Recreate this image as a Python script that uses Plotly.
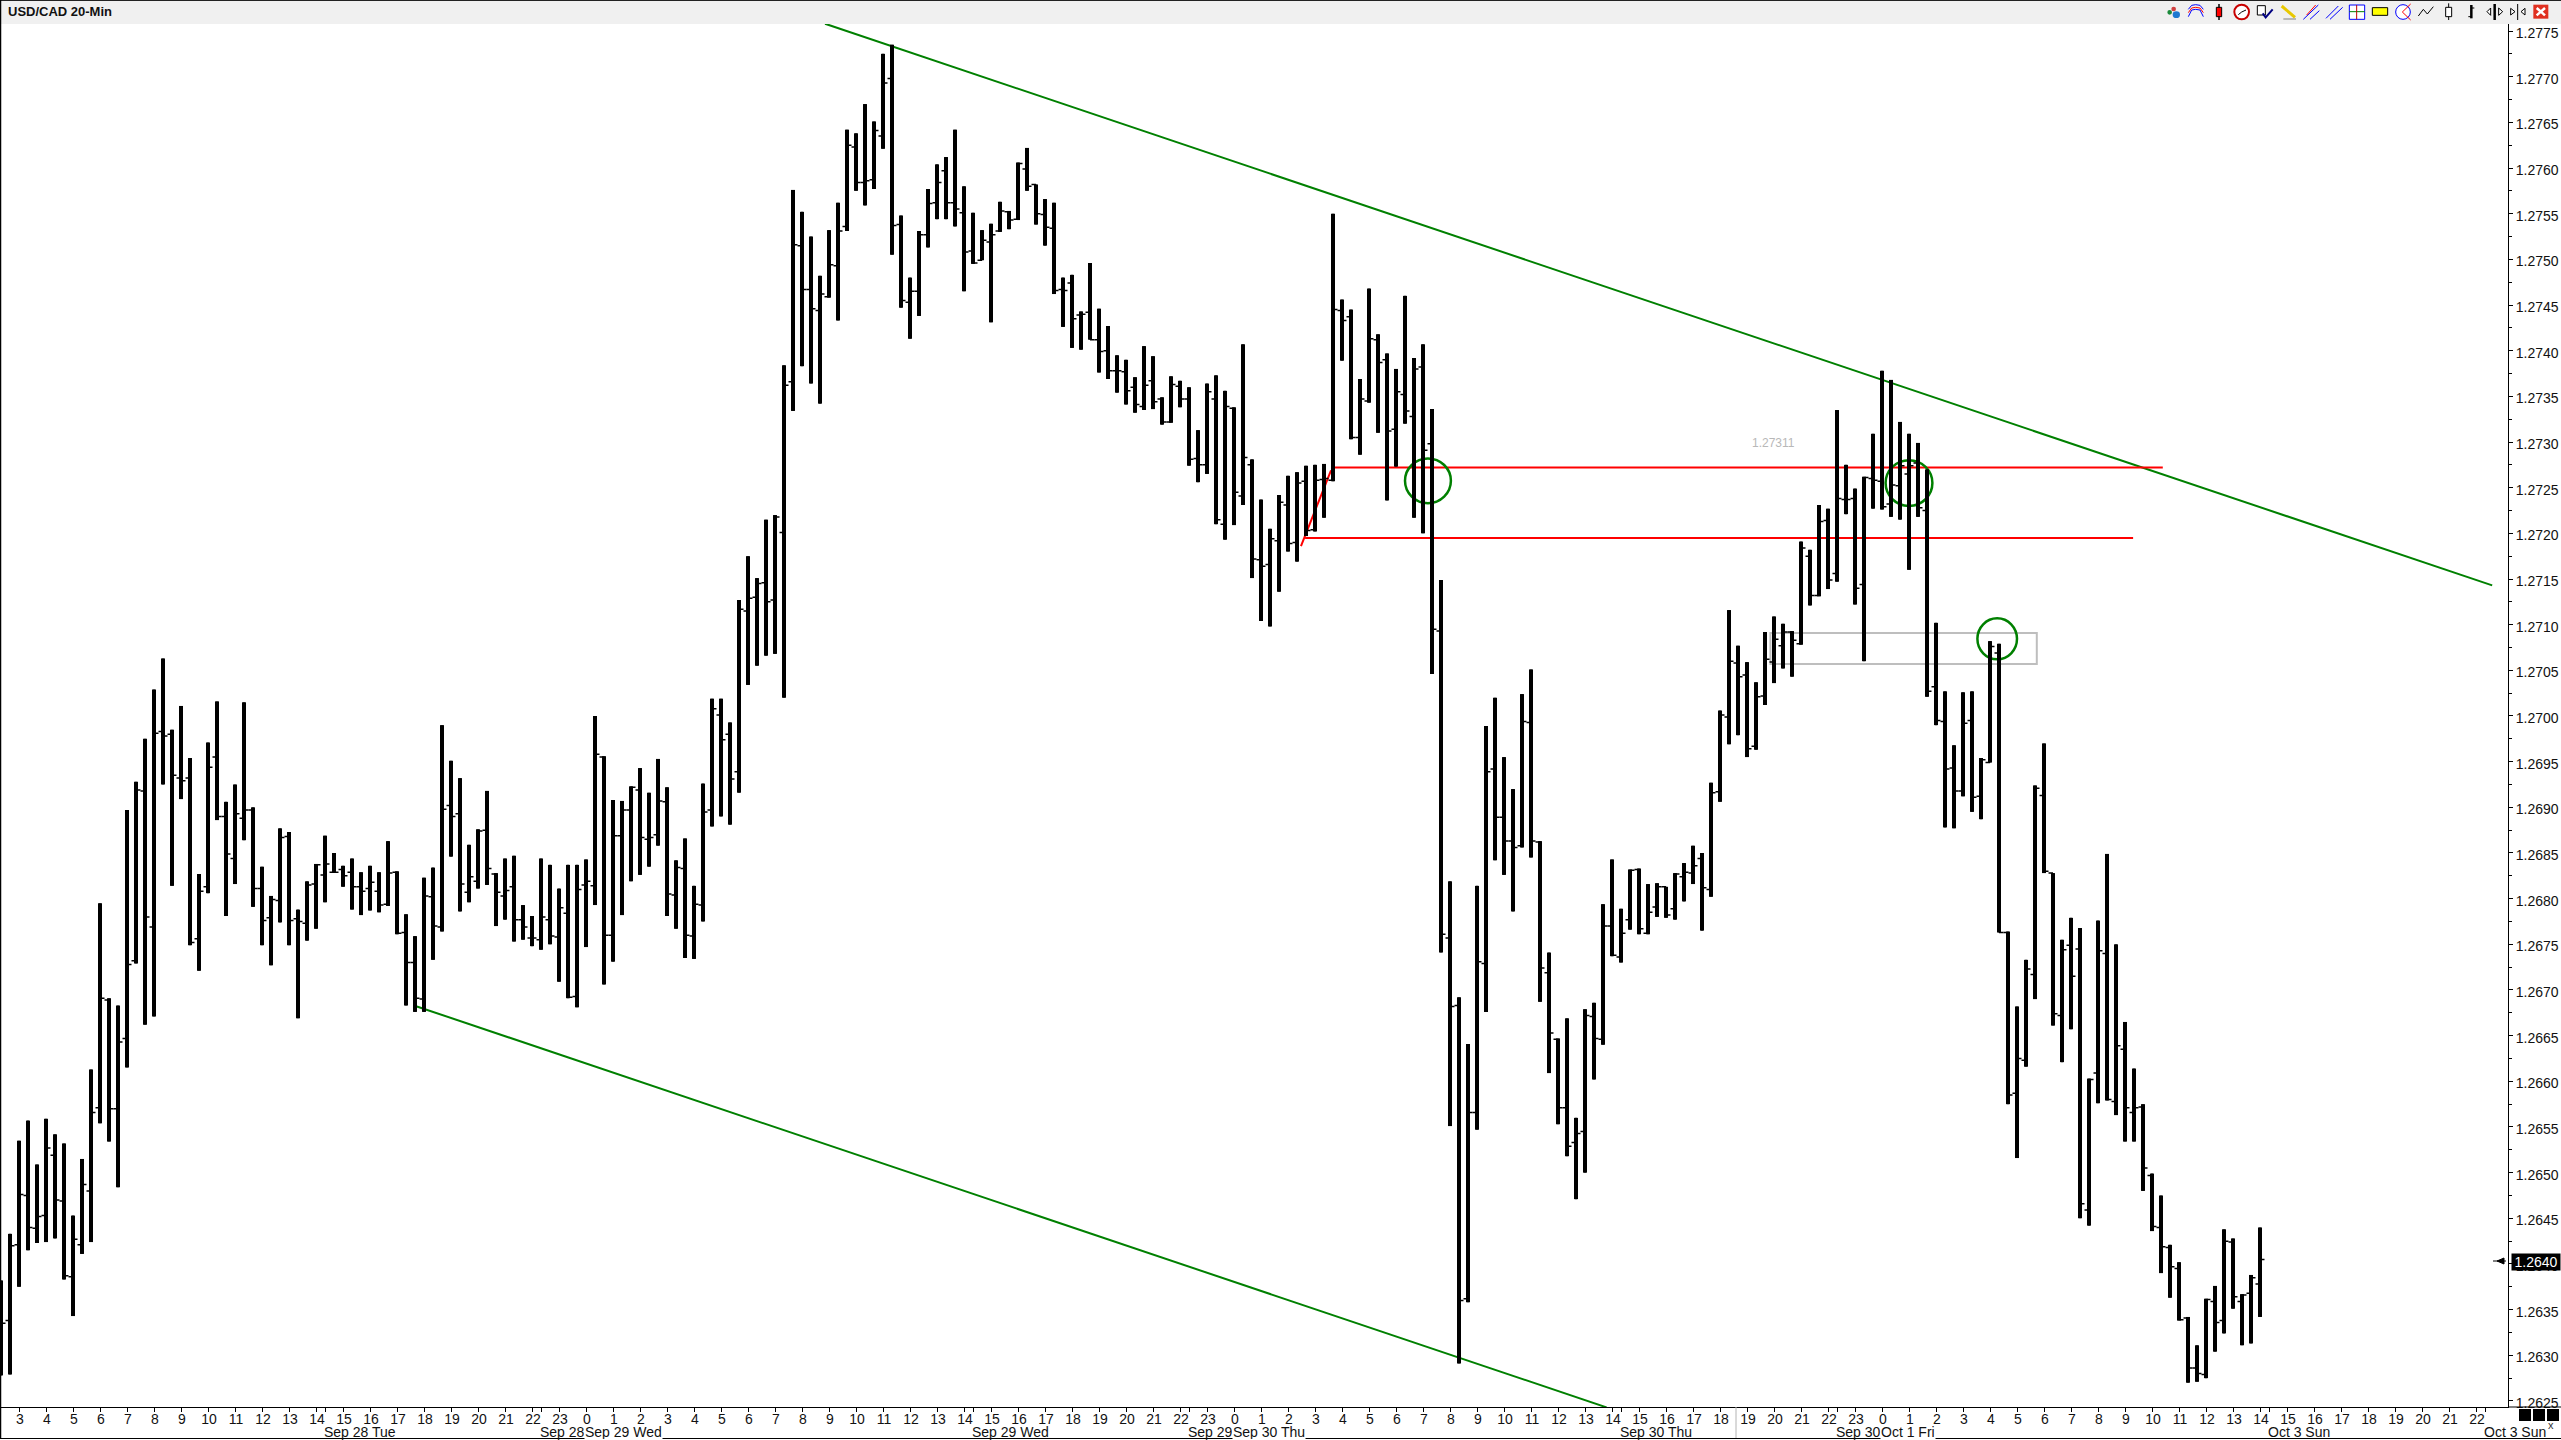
import plotly.graph_objects as go

# USD/CAD 20-minute bars (prices)
opens = [
1.26355,1.26338,1.26421,1.26475,1.26439,1.26453,1.26519,1.26469,1.26386,1.26421,
1.26480,1.26571,1.26689,1.26570,1.26647,1.26732,1.26918,1.26769,1.26983,1.26980,
1.26932,1.26932,1.26756,1.26813,1.26955,1.26890,1.26844,1.26888,1.26897,1.26811,
1.26779,1.26798,1.26868,1.26778,1.26773,1.26816,1.26826,1.26829,1.26832,1.26829,
1.26813,1.26811,1.26808,1.26794,1.26829,1.26763,1.26730,1.26690,1.26802,1.26769,
1.26902,1.26893,1.26807,1.26819,1.26875,1.26827,1.26803,1.26813,1.26777,1.26757,
1.26755,1.26777,1.26758,1.26784,1.26693,1.26815,1.26814,1.26955,1.26760,1.26869,
1.26897,1.26919,1.26865,1.26870,1.26906,1.26804,1.26833,1.26759,1.26793,1.26897,
1.27001,1.26980,1.26939,1.27115,1.27130,1.27146,1.27127,1.27201,1.27366,1.27515,
1.27467,1.27444,1.27459,1.27493,1.27536,1.27623,1.27584,1.27587,1.27635,1.27698,
1.27538,1.27453,1.27465,1.27527,1.27562,1.27597,1.27562,1.27551,1.27509,1.27499,
1.27519,1.27531,1.27552,1.27544,1.27599,1.27582,1.27549,1.27534,1.27467,1.27474,
1.27439,1.27442,1.27412,1.27400,1.27378,1.27377,1.27360,1.27339,1.27367,1.27347,
1.27322,1.27361,1.27347,1.27282,1.27275,1.27347,1.27210,1.27337,1.27241,1.27275,
1.27171,1.27166,1.27192,1.27231,1.27190,1.27257,1.27204,1.27259,1.27258,1.27444,
1.27437,1.27305,1.27345,1.27412,1.27390,1.27314,1.27352,1.27328,1.27382,1.27298,
1.27093,1.26757,1.26683,1.26362,1.26566,1.26729,1.26942,1.26889,1.26863,1.26858,
1.26993,1.26862,1.26719,1.26646,1.26571,1.26533,1.26545,1.26671,1.26646,1.26770,
1.26736,1.26777,1.26832,1.26762,1.26791,1.26813,1.26789,1.26824,1.26828,1.26844,
1.26810,1.26917,1.26999,1.27058,1.27045,1.26967,1.27022,1.27059,1.27077,1.27092,
1.27079,1.27175,1.27132,1.27214,1.27156,1.27237,1.27238,1.27144,1.27260,1.27257,
1.27232,1.27252,1.27265,1.27277,1.27225,1.27032,1.26994,1.26943,1.26918,1.26995,
1.26912,1.26949,1.27069,1.26763,1.26587,1.26623,1.26717,1.26913,1.26828,1.26672,
1.26749,1.26745,1.26459,1.26609,1.26740,1.26578,1.26635,1.26566,1.26572,1.26497,
1.26440,1.26418,1.26395,1.26341,1.26286,1.26279,1.26359,1.26338,1.26424,1.26359,
1.26368,1.26378]

highs = [
1.26382,1.26433,1.26535,1.26557,1.26509,1.26559,1.26542,1.26532,1.26453,1.26515,
1.26613,1.26795,1.26691,1.26683,1.26897,1.26928,1.26975,1.27029,1.27063,1.26985,
1.27011,1.26954,1.26827,1.26971,1.27016,1.26906,1.26925,1.27015,1.26900,1.26835,
1.26803,1.26877,1.26873,1.26788,1.26819,1.26838,1.26869,1.26850,1.26836,1.26844,
1.26829,1.26836,1.26829,1.26863,1.26830,1.26783,1.26759,1.26823,1.26834,1.26990,
1.26951,1.26932,1.26859,1.26876,1.26918,1.26828,1.26844,1.26847,1.26793,1.26781,
1.26844,1.26837,1.26811,1.26837,1.26837,1.26843,1.27000,1.26956,1.26908,1.26907,
1.26923,1.26943,1.26916,1.26953,1.26922,1.26842,1.26866,1.26814,1.26926,1.27019,
1.27019,1.26993,1.27127,1.27175,1.27151,1.27215,1.27220,1.27384,1.27576,1.27552,
1.27525,1.27482,1.27532,1.27562,1.27642,1.27638,1.27670,1.27651,1.27725,1.27735,
1.27548,1.27480,1.27531,1.27577,1.27604,1.27612,1.27642,1.27580,1.27551,1.27532,
1.27539,1.27563,1.27553,1.27606,1.27622,1.27582,1.27566,1.27562,1.27480,1.27483,
1.27443,1.27496,1.27446,1.27427,1.27395,1.27390,1.27371,1.27405,1.27394,1.27349,
1.27372,1.27367,1.27360,1.27313,1.27364,1.27373,1.27356,1.27338,1.27407,1.27281,
1.27237,1.27205,1.27242,1.27263,1.27267,1.27274,1.27275,1.27276,1.27550,1.27456,
1.27445,1.27369,1.27468,1.27418,1.27397,1.27380,1.27460,1.27392,1.27407,1.27336,
1.27149,1.26819,1.26692,1.26641,1.26814,1.26989,1.27020,1.26955,1.26920,1.27024,
1.27051,1.26863,1.26741,1.26647,1.26669,1.26560,1.26679,1.26686,1.26794,1.26843,
1.26789,1.26832,1.26833,1.26816,1.26817,1.26813,1.26828,1.26839,1.26858,1.26850,
1.26927,1.27006,1.27116,1.27077,1.27059,1.27037,1.27092,1.27109,1.27101,1.27093,
1.27191,1.27182,1.27231,1.27227,1.27335,1.27275,1.27249,1.27262,1.27309,1.27378,
1.27368,1.27322,1.27309,1.27299,1.27270,1.27102,1.27027,1.26968,1.27026,1.27027,
1.26954,1.27082,1.27079,1.26764,1.26682,1.26733,1.26924,1.26970,1.26828,1.26755,
1.26779,1.26768,1.26603,1.26776,1.26849,1.26750,1.26665,1.26614,1.26575,1.26499,
1.26475,1.26421,1.26402,1.26342,1.26311,1.26362,1.26376,1.26438,1.26428,1.26367,
1.26388,1.26440]

lows = [
1.26278,1.26279,1.26375,1.26415,1.26423,1.26424,1.26428,1.26383,1.26343,1.26411,
1.26424,1.26554,1.26534,1.26484,1.26615,1.26729,1.26662,1.26671,1.26925,1.26814,
1.26909,1.26749,1.26721,1.26806,1.26886,1.26781,1.26816,1.26864,1.26791,1.26749,
1.26727,1.26774,1.26749,1.26669,1.26754,1.26767,1.26796,1.26829,1.26813,1.26788,
1.26782,1.26787,1.26785,1.26792,1.26761,1.26683,1.26676,1.26676,1.26733,1.26764,
1.26846,1.26786,1.26796,1.26811,1.26815,1.26770,1.26777,1.26753,1.26755,1.26748,
1.26744,1.26750,1.26709,1.26691,1.26681,1.26747,1.26793,1.26706,1.26731,1.26782,
1.26819,1.26826,1.26835,1.26858,1.26781,1.26767,1.26735,1.26734,1.26775,1.26879,
1.26890,1.26881,1.26916,1.27034,1.27055,1.27066,1.27068,1.27020,1.27334,1.27383,
1.27364,1.27342,1.27458,1.27433,1.27531,1.27575,1.27559,1.27577,1.27621,1.27505,
1.27447,1.27413,1.27438,1.27513,1.27544,1.27544,1.27536,1.27465,1.27495,1.27499,
1.27431,1.27530,1.27533,1.27543,1.27575,1.27538,1.27515,1.27462,1.27426,1.27403,
1.27401,1.27412,1.27376,1.27369,1.27354,1.27341,1.27332,1.27335,1.27336,1.27319,
1.27321,1.27338,1.27274,1.27256,1.27265,1.27210,1.27193,1.27209,1.27231,1.27151,
1.27104,1.27098,1.27136,1.27180,1.27169,1.27197,1.27202,1.27217,1.27257,1.27389,
1.27303,1.27286,1.27343,1.27310,1.27236,1.27273,1.27320,1.27217,1.27200,1.27046,
1.26741,1.26551,1.26291,1.26358,1.26547,1.26676,1.26842,1.26826,1.26786,1.26856,
1.26845,1.26687,1.26609,1.26553,1.26518,1.26471,1.26500,1.26602,1.26640,1.26737,
1.26730,1.26766,1.26761,1.26761,1.26780,1.26779,1.26777,1.26797,1.26816,1.26765,
1.26802,1.26906,1.26969,1.26979,1.26955,1.26963,1.27012,1.27036,1.27052,1.27043,
1.27078,1.27121,1.27131,1.27139,1.27147,1.27221,1.27122,1.27060,1.27227,1.27226,
1.27218,1.27215,1.27160,1.27218,1.27021,1.26990,1.26878,1.26877,1.26912,1.26895,
1.26887,1.26949,1.26763,1.26575,1.26516,1.26616,1.26690,1.26828,1.26661,1.26621,
1.26657,1.26450,1.26442,1.26576,1.26579,1.26563,1.26534,1.26534,1.26480,1.26436,
1.26390,1.26363,1.26338,1.26270,1.26271,1.26275,1.26304,1.26324,1.26351,1.26311,
1.26313,1.26342]

closes = [
1.26335,1.26420,1.26476,1.26440,1.26452,1.26527,1.26470,1.26387,1.26427,1.26487,
1.26566,1.26691,1.26570,1.26643,1.26728,1.26919,1.26780,1.26981,1.26978,1.26935,
1.26929,1.26752,1.26808,1.26944,1.26890,1.26849,1.26893,1.26897,1.26811,1.26776,
1.26799,1.26867,1.26776,1.26775,1.26815,1.26837,1.26838,1.26829,1.26825,1.26813,
1.26808,1.26818,1.26793,1.26828,1.26762,1.26730,1.26691,1.26803,1.26770,1.26898,
1.26890,1.26816,1.26824,1.26874,1.26833,1.26807,1.26809,1.26777,1.26769,1.26757,
1.26780,1.26759,1.26790,1.26692,1.26810,1.26819,1.26958,1.26760,1.26869,1.26897,
1.26922,1.26867,1.26867,1.26907,1.26805,1.26834,1.26760,1.26794,1.26895,1.27008,
1.26974,1.26931,1.27117,1.27129,1.27145,1.27125,1.27218,1.27362,1.27516,1.27467,
1.27446,1.27462,1.27494,1.27531,1.27625,1.27584,1.27586,1.27641,1.27693,1.27537,
1.27455,1.27465,1.27527,1.27561,1.27584,1.27562,1.27555,1.27508,1.27496,1.27521,
1.27527,1.27553,1.27543,1.27605,1.27580,1.27550,1.27535,1.27466,1.27466,1.27435,
1.27440,1.27412,1.27399,1.27378,1.27378,1.27356,1.27341,1.27362,1.27344,1.27322,
1.27363,1.27347,1.27281,1.27275,1.27355,1.27215,1.27339,1.27245,1.27283,1.27172,
1.27164,1.27194,1.27234,1.27189,1.27255,1.27203,1.27258,1.27260,1.27445,1.27433,
1.27305,1.27347,1.27413,1.27387,1.27312,1.27355,1.27334,1.27380,1.27291,1.27095,
1.26761,1.26682,1.26360,1.26566,1.26731,1.26939,1.26889,1.26863,1.26856,1.26994,
1.26863,1.26724,1.26653,1.26571,1.26529,1.26543,1.26672,1.26647,1.26770,1.26738,
1.26762,1.26831,1.26767,1.26785,1.26813,1.26782,1.26827,1.26829,1.26836,1.26812,
1.26916,1.27001,1.27060,1.27043,1.26964,1.27021,1.27062,1.27084,1.27092,1.27083,
1.27184,1.27132,1.27213,1.27149,1.27238,1.27237,1.27140,1.27261,1.27258,1.27229,
1.27253,1.27274,1.27274,1.27228,1.27027,1.26995,1.26942,1.26918,1.26992,1.26911,
1.26952,1.27076,1.26763,1.26585,1.26625,1.26723,1.26921,1.26830,1.26674,1.26744,
1.26715,1.26466,1.26602,1.26743,1.26580,1.26639,1.26571,1.26571,1.26505,1.26441,
1.26419,1.26397,1.26339,1.26286,1.26280,1.26361,1.26336,1.26425,1.26364,1.26366,
1.26385,1.26405]

bars = list(range(len(closes)))

# Axis labels
hour_ticks = list(range(2, 278, 3))
hour_labels = [str((3 + k) % 24) for k in range(len(hour_ticks))]
price_ticks = [round(1.2625 + 0.0005 * k, 4) for k in range(31)]
price_minor = [round(1.26225 + 0.0005 * k, 5) for k in range(32)]
price_labels = [f"{p:.4f}" for p in price_ticks]
day_ticks = [36, 60, 108, 132, 180, 204, 252, 276]
date_bars = [36, 60, 65, 108, 132, 137, 180, 204, 209, 252, 276]
date_labels = ["Sep 28 Tue", "Sep 28", "Sep 29 Wed", "Sep 29 Wed", "Sep 29", "Sep 30 Thu",
               "Sep 30 Thu", "Sep 30", "Oct 1 Fri", "Oct 3 Sun", "Oct 3 Sun"]
date_masks = {65, 137, 209}

# Drawn annotations, in (bar, price)
upper_trend = [(91.56, 1.27758), (276.8, 1.27143)]
lower_trend = [(46.2, 1.26682), (178.4, 1.26243)]
red_upper = [(147.78, 1.27272), (240.2, 1.27272)]
red_lower = [(144.9, 1.27195), (236.9, 1.27195)]
red_slant = [(144.44, 1.27186), (147.78, 1.27269)]
circles = [(156.0, 161.1, 1.27233, 1.27282), (209.4, 214.6, 1.27230, 1.27280), (219.6, 224.0, 1.27062, 1.27107)]
grey_box = (196.6, 226.2, 1.27057, 1.27091)
last_price = 1.2640

W, H = 2561, 1440
L, R, T, B = 0, 2508, 24, 1407
FONT = "Liberation Sans"

def px(x):
    return (x - L) / (R - L)

def py(y):
    return (B - y) / (B - T)

shapes = []

def seg(x0, y0, x1, y1, color="black", width=1):
    shapes.append(dict(type="line", xref="paper", yref="paper", x0=px(x0), y0=py(y0), x1=px(x1), y1=py(y1),
                       line=dict(color=color, width=width), layer="above"))

def box(x0, y0, x1, y1, fill="rgba(0,0,0,0)", color="black", width=1, kind="rect"):
    shapes.append(dict(type=kind, xref="paper", yref="paper", x0=px(x0), y0=py(y0), x1=px(x1), y1=py(y1),
                       fillcolor=fill, line=dict(color=color, width=width), layer="above"))

def poly(points, color="black", width=1, fill=None, close=False):
    d = "M " + " L ".join(f"{px(a)} {py(b)}" for a, b in points) + (" Z" if close else "")
    shapes.append(dict(type="path", xref="paper", yref="paper", path=d, line=dict(color=color, width=width),
                       fillcolor=fill or "rgba(0,0,0,0)", layer="above"))

# chart drawings (under the bars)
for (a, b), col, w in [(upper_trend, "#008000", 2), (lower_trend, "#008000", 2),
                       (red_upper, "#ff0000", 2), (red_lower, "#ff0000", 2), (red_slant, "#ff0000", 2)]:
    shapes.append(dict(type="line", xref="x", yref="y", x0=a[0], y0=a[1], x1=b[0], y1=b[1],
                       line=dict(color=col, width=w), layer="below"))
shapes.append(dict(type="rect", xref="x", yref="y", x0=grey_box[0], x1=grey_box[1], y0=grey_box[2], y1=grey_box[3],
                   line=dict(color="#bebebe", width=2), layer="below"))
for c in circles:
    shapes.append(dict(type="circle", xref="x", yref="y", x0=c[0], x1=c[1], y0=c[2], y1=c[3],
                       line=dict(color="#008000", width=2.5), layer="below"))

# window chrome
box(0, 0, W, T, fill="#f0f0f0", color="#f0f0f0", width=0)
seg(0, 0.5, W, 0.5, "#222", 1)
seg(0.5, 0, 0.5, 1439, "black", 1.5)
seg(0, 1438.5, W, 1438.5, "black", 1)
seg(R, B, W, B, "black", 1)
seg(1736, B, 1736, 1438, "#b4b4b4", 1)
for a in (2519, 2533, 2547):
    box(a, 1409, a + 12, 1421, fill="black", color="black", width=0)

# current-price arrow
seg(2493, 1261, 2506, 1261, "black", 1)
poly([(2497, 1261), (2504, 1258), (2504, 1264)], fill="black", close=True)

# toolbar icons
def zx(v):
    return 2140 + v / 3

def zy(v):
    return v / 3

def zseg(a, b, c, d, color="black", width=1):
    seg(zx(a), zy(b), zx(c), zy(d), color, width)

def zbox(a, b, c, d, fill="white", color="black", width=1, kind="rect"):
    box(zx(a), zy(b), zx(c), zy(d), fill, color, width, kind)

def zpoly(pts, color="black", width=1, fill=None, close=False):
    poly([(zx(a), zy(b)) for a, b in pts], color, width, fill, close)

zbox(82, 30, 96, 44, "#1a8a3a", "#1a8a3a", 0, "circle")
zbox(94, 20, 108, 34, "#d04040", "#d04040", 0, "circle")
zbox(98, 34, 120, 54, "#1e78d0", "#1e78d0", 0, "circle")
zpoly([(145, 50), (155, 30), (167, 28), (180, 30), (190, 50)], "#0000ff")
zpoly([(145, 38), (155, 24), (167, 22), (180, 24), (190, 38)], "#ff0000")
zpoly([(145, 28), (155, 16), (167, 14), (180, 16), (190, 28)], "#0000ff")
zseg(237, 12, 237, 60, "black", 1.5)
zbox(229, 22, 245, 50, "#ff0000", "black", 1)
zbox(283, 14, 327, 58, "white", "#c80000", 2, "circle")
zseg(305, 36, 318, 30, "black", 1)
zseg(305, 36, 295, 44, "black", 1)
zbox(352, 17, 376, 45, "white", "black", 1)
zpoly([(368, 40), (377, 52), (398, 28)], "#000080", 2)
zseg(425, 18, 465, 52, "#e8c800", 3)
zseg(430, 57, 468, 57, "#808080", 1)
zseg(490, 58, 535, 15, "#0000ff")
zseg(510, 58, 538, 32, "#0000ff")
zseg(500, 45, 527, 15, "#ff0000")
zseg(558, 55, 595, 18, "#0000ff")
zseg(570, 58, 608, 22, "#0000ff")
zbox(628, 15, 674, 58, "white", "#0000ff", 1)
zseg(628, 35, 674, 35, "#008000")
zseg(650, 15, 650, 58, "#c00000")
zbox(697, 23, 743, 46, "#ffff00", "black", 1)
zbox(767, 14, 811, 58, "white", "#0000ff", 1, "circle")
zpoly([(812, 12), (787, 36), (812, 60)], "#ff0000")
zpoly([(835, 48), (850, 28), (862, 42), (880, 20)], "black")
zseg(926, 10, 926, 60)
zbox(917, 22, 935, 50, "white", "black", 1)
zseg(994, 15, 994, 55, "black", 2.5)
zseg(985, 50, 994, 50, "black", 1)
zseg(994, 24, 1003, 24, "black", 1)
zpoly([(1052, 24), (1041, 35), (1052, 46)], "black", 1, "white", True)
zseg(1064, 12, 1064, 60, "black", 2.5)
zpoly([(1076, 24), (1088, 35), (1076, 46)], "black", 1, "white", True)
zpoly([(1112, 25), (1125, 35), (1112, 45)], "black", 1, "white", True)
zseg(1133, 12, 1133, 60, "black", 1)
zpoly([(1155, 25), (1143, 35), (1155, 45)], "black", 1, "white", True)
zbox(1180, 14, 1225, 56, "#e03020", "#e03020", 0)
zseg(1190, 24, 1215, 46, "white", 2.5)
zseg(1215, 24, 1190, 46, "white", 2.5)

annotations = [
    dict(text="<b>USD/CAD 20-Min</b>", xref="paper", yref="paper", x=px(6), y=py(12), xanchor="left", yanchor="middle",
         showarrow=False, font=dict(family=FONT, size=13, color="#111")),
    dict(text="1.27311", xref="x", yref="y", x=196.9, y=1.27299, showarrow=False,
         font=dict(family=FONT, size=12, color="#b8b8b8")),
    dict(text="x", xref="paper", yref="paper", x=px(2556), y=py(1433), showarrow=False,
         font=dict(family=FONT, size=11, color="#333")),
    dict(text=f"{last_price:.4f}", xref="paper", yref="y", x=px(2536), y=last_price, yshift=2, xanchor="center",
         yanchor="middle", showarrow=False, bgcolor="black", width=48, height=16, borderpad=0,
         font=dict(family=FONT, size=14, color="white")),
]
for b, t in zip(date_bars, date_labels):
    item = dict(text=t, xref="x", yref="paper", x=b, y=py(1432), xanchor="left", yanchor="middle",
                showarrow=False, borderpad=0, xshift=-2, font=dict(family=FONT, size=14, color="#111"))
    if b in date_masks:
        item.update(bgcolor="white", height=14)
    annotations.append(item)

fig = go.Figure()
fig.add_trace(go.Bar(x=bars, base=lows, y=[h - l for h, l in zip(highs, lows)], width=4 / 9,
                     marker=dict(color="black", line=dict(width=0)), hoverinfo="skip", showlegend=False))
fig.add_trace(go.Ohlc(x=bars, open=opens, high=highs, low=lows, close=closes, tickwidth=0.5,
                      increasing=dict(line=dict(color="black", width=1.5)),
                      decreasing=dict(line=dict(color="black", width=1.5)), showlegend=False))
fig.update_layout(
    width=W, height=H, margin=dict(l=L, r=W - R, t=T, b=H - B), paper_bgcolor="white", plot_bgcolor="white",
    barmode="overlay", showlegend=False, shapes=shapes, annotations=annotations,
    font=dict(family=FONT, size=14, color="#111"),
    xaxis=dict(range=[-1 / 9, (R - 1) / 9], rangeslider=dict(visible=False), showgrid=False, zeroline=False,
               tickmode="array", tickvals=hour_ticks, ticktext=hour_labels, ticks="outside", ticklen=4,
               tickcolor="black", showline=True, linecolor="black", linewidth=1, tickangle=0,
               ticklabelstandoff=-5, ticklabelshift=1,
               minor=dict(tickmode="array", tickvals=day_ticks, ticks="outside", ticklen=4, tickcolor="black"),
               tickfont=dict(family=FONT, size=14, color="#111")),
    yaxis=dict(range=[1.2775 - (B - 31) * 1.0949e-5, 1.2775 + (31 - T) * 1.0949e-5], side="right", showgrid=False,
               zeroline=False, tickmode="array", tickvals=price_ticks, ticktext=price_labels, ticks="outside",
               ticklen=4, tickcolor="black", showline=True, linecolor="black", linewidth=1, ticklabelshift=2,
               minor=dict(tickmode="array", tickvals=price_minor, ticks="outside", ticklen=3, tickcolor="black"),
               tickfont=dict(family=FONT, size=14, color="#111")),
)
fig.write_html("out.html", config=dict(displayModeBar=False),
               post_script="document.body.style.margin='0';document.body.style.overflow='hidden';")
